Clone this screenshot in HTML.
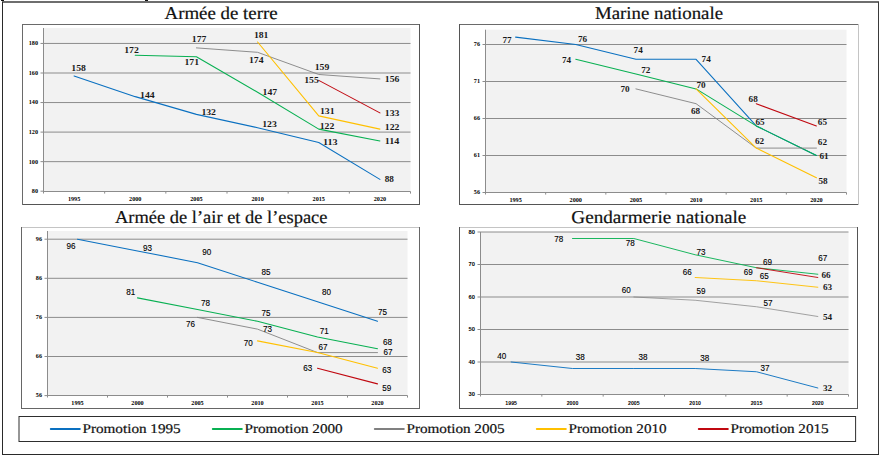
<!DOCTYPE html>
<html><head><meta charset="utf-8"><title>Chart</title>
<style>
html,body{margin:0;padding:0;background:#fff;}
svg{display:block;font-family:"Liberation Serif",serif;}
.t{font-size:18px;fill:#111;stroke:#111;stroke-width:0.2px;text-rendering:geometricPrecision;}
.s{font-size:9.2px;font-weight:bold;fill:#1a1a1a;text-anchor:middle;}
.n{font-family:"Liberation Sans",sans-serif;font-size:8.6px;fill:#000;stroke:#000;stroke-width:0.12px;text-anchor:middle;}
.as{font-size:6.2px;font-weight:bold;fill:#000;}
.an{font-family:"Liberation Sans",sans-serif;font-size:5.8px;font-weight:bold;fill:#000;}
.l{font-size:13.4px;fill:#111;stroke:#111;stroke-width:0.2px;text-rendering:geometricPrecision;}
</style></head><body>
<svg width="881" height="458" viewBox="0 0 881 458">
<rect x="0" y="0" width="881" height="458" fill="#fff"/>
<rect x="2" y="1" width="877" height="2" fill="#6e6e6e"/>
<rect x="2" y="2" width="1" height="453" fill="#2a2a2a"/>
<rect x="878" y="2" width="1" height="453" fill="#3a3a3a"/>
<rect x="2" y="454" width="877" height="1" fill="#2a2a2a"/>
<rect x="1" y="0" width="3" height="1" fill="#111"/>
<rect x="145" y="0" width="3" height="1" fill="#111"/>
<!-- Armée de terre -->
<text class="t" x="164.5" y="18.7" textLength="113.2" lengthAdjust="spacingAndGlyphs">Armée de terre</text>
<rect x="22" y="24" width="398" height="181" fill="#fff"/>
<rect x="22" y="24" width="398" height="1" fill="#6a6a6a"/>
<rect x="22" y="204" width="398" height="1" fill="#555"/>
<rect x="22" y="24" width="1" height="181" fill="#6a6a6a"/>
<rect x="419" y="24" width="1" height="181" fill="#555"/>
<rect x="43.5" y="28.0" width="367.0" height="163.5" fill="#f2f2f2"/>
<line x1="40.5" y1="43.45" x2="410.5" y2="43.45" stroke="#8c8c8c" stroke-width="1"/>
<text class="as" x="38.0" y="45.30" text-anchor="end">180</text>
<line x1="40.5" y1="73.00" x2="410.5" y2="73.00" stroke="#8c8c8c" stroke-width="1"/>
<text class="as" x="38.0" y="74.85" text-anchor="end">160</text>
<line x1="40.5" y1="102.55" x2="410.5" y2="102.55" stroke="#8c8c8c" stroke-width="1"/>
<text class="as" x="38.0" y="104.40" text-anchor="end">140</text>
<line x1="40.5" y1="132.10" x2="410.5" y2="132.10" stroke="#8c8c8c" stroke-width="1"/>
<text class="as" x="38.0" y="133.95" text-anchor="end">120</text>
<line x1="40.5" y1="161.65" x2="410.5" y2="161.65" stroke="#8c8c8c" stroke-width="1"/>
<text class="as" x="38.0" y="163.50" text-anchor="end">100</text>
<line x1="40.5" y1="191.20" x2="43.5" y2="191.20" stroke="#8c8c8c" stroke-width="1"/>
<text class="as" x="38.0" y="193.05" text-anchor="end">80</text>
<line x1="43.5" y1="28.0" x2="43.5" y2="193.5" stroke="#8c8c8c" stroke-width="1"/>
<line x1="43.5" y1="191.5" x2="410.5" y2="191.5" stroke="#8c8c8c" stroke-width="1"/>
<line x1="104.67" y1="191.5" x2="104.67" y2="193.6" stroke="#8c8c8c" stroke-width="1"/>
<line x1="165.83" y1="191.5" x2="165.83" y2="193.6" stroke="#8c8c8c" stroke-width="1"/>
<line x1="227.00" y1="191.5" x2="227.00" y2="193.6" stroke="#8c8c8c" stroke-width="1"/>
<line x1="288.17" y1="191.5" x2="288.17" y2="193.6" stroke="#8c8c8c" stroke-width="1"/>
<line x1="349.33" y1="191.5" x2="349.33" y2="193.6" stroke="#8c8c8c" stroke-width="1"/>
<line x1="410.50" y1="191.5" x2="410.50" y2="193.6" stroke="#8c8c8c" stroke-width="1"/>
<text class="as" x="74.08" y="201.00" text-anchor="middle">1995</text>
<text class="as" x="135.25" y="201.00" text-anchor="middle">2000</text>
<text class="as" x="196.42" y="201.00" text-anchor="middle">2005</text>
<text class="as" x="257.58" y="201.00" text-anchor="middle">2010</text>
<text class="as" x="318.75" y="201.00" text-anchor="middle">2015</text>
<text class="as" x="379.92" y="201.00" text-anchor="middle">2020</text>
<polyline points="74.08,75.95 135.25,96.64 196.42,114.37 257.58,127.67 318.75,142.44 379.92,179.38" fill="none" stroke="#0a70c0" stroke-width="1.08" stroke-linejoin="round" stroke-linecap="round"/>
<polyline points="135.25,55.27 196.42,56.75 257.58,92.21 318.75,129.14 379.92,140.96" fill="none" stroke="#08b052" stroke-width="1.08" stroke-linejoin="round" stroke-linecap="round"/>
<polyline points="196.42,47.88 257.58,52.31 318.75,74.48 379.92,78.91" fill="none" stroke="#808080" stroke-width="0.88" stroke-linejoin="round" stroke-linecap="round"/>
<polyline points="257.58,41.97 318.75,115.85 379.92,129.14" fill="none" stroke="#ffc000" stroke-width="1.08" stroke-linejoin="round" stroke-linecap="round"/>
<polyline points="318.75,80.39 379.92,112.89" fill="none" stroke="#c00810" stroke-width="1.08" stroke-linejoin="round" stroke-linecap="round"/>
<text class="s" x="78.6" y="71.2" textLength="14.6" lengthAdjust="spacingAndGlyphs">158</text>
<text class="s" x="147.4" y="98.1" textLength="14.6" lengthAdjust="spacingAndGlyphs">144</text>
<text class="s" x="208.7" y="114.9" textLength="14.6" lengthAdjust="spacingAndGlyphs">132</text>
<text class="s" x="269.5" y="127.4" textLength="14.6" lengthAdjust="spacingAndGlyphs">123</text>
<text class="s" x="330.3" y="144.7" textLength="14.6" lengthAdjust="spacingAndGlyphs">113</text>
<text class="s" x="389.3" y="182.2">88</text>
<text class="s" x="131.5" y="52.6" textLength="14.6" lengthAdjust="spacingAndGlyphs">172</text>
<text class="s" x="191.8" y="64.9" textLength="14.6" lengthAdjust="spacingAndGlyphs">171</text>
<text class="s" x="269.9" y="95.3" textLength="14.6" lengthAdjust="spacingAndGlyphs">147</text>
<text class="s" x="327.0" y="129.4" textLength="14.6" lengthAdjust="spacingAndGlyphs">122</text>
<text class="s" x="392.1" y="144.0" textLength="14.6" lengthAdjust="spacingAndGlyphs">114</text>
<text class="s" x="199.1" y="42.3" textLength="14.6" lengthAdjust="spacingAndGlyphs">177</text>
<text class="s" x="256.3" y="63.4" textLength="14.6" lengthAdjust="spacingAndGlyphs">174</text>
<text class="s" x="322.0" y="70.2" textLength="14.6" lengthAdjust="spacingAndGlyphs">159</text>
<text class="s" x="392.1" y="82.2" textLength="14.6" lengthAdjust="spacingAndGlyphs">156</text>
<text class="s" x="261.2" y="37.8" textLength="14.6" lengthAdjust="spacingAndGlyphs">181</text>
<text class="s" x="327.3" y="113.9" textLength="14.6" lengthAdjust="spacingAndGlyphs">131</text>
<text class="s" x="392.1" y="130.2" textLength="14.6" lengthAdjust="spacingAndGlyphs">122</text>
<text class="s" x="311.5" y="83.0" textLength="14.6" lengthAdjust="spacingAndGlyphs">155</text>
<text class="s" x="392.1" y="116.1" textLength="14.6" lengthAdjust="spacingAndGlyphs">133</text>
<!-- Marine nationale -->
<text class="t" x="595" y="18.7" textLength="128.0" lengthAdjust="spacingAndGlyphs">Marine nationale</text>
<rect x="459" y="24" width="400" height="181" fill="#fff"/>
<rect x="459" y="24" width="400" height="1" fill="#6a6a6a"/>
<rect x="459" y="204" width="400" height="1" fill="#555"/>
<rect x="459" y="24" width="1" height="181" fill="#555"/>
<rect x="858" y="24" width="1" height="181" fill="#c4c4c4"/>
<rect x="485.5" y="29.7" width="361.0" height="162.8" fill="#f2f2f2"/>
<line x1="482.5" y1="44.50" x2="846.5" y2="44.50" stroke="#8c8c8c" stroke-width="1"/>
<text class="as" x="480.0" y="46.35" text-anchor="end">76</text>
<line x1="482.5" y1="81.50" x2="846.5" y2="81.50" stroke="#8c8c8c" stroke-width="1"/>
<text class="as" x="480.0" y="83.35" text-anchor="end">71</text>
<line x1="482.5" y1="118.50" x2="846.5" y2="118.50" stroke="#8c8c8c" stroke-width="1"/>
<text class="as" x="480.0" y="120.35" text-anchor="end">66</text>
<line x1="482.5" y1="155.50" x2="846.5" y2="155.50" stroke="#8c8c8c" stroke-width="1"/>
<text class="as" x="480.0" y="157.35" text-anchor="end">61</text>
<line x1="482.5" y1="192.50" x2="485.5" y2="192.50" stroke="#8c8c8c" stroke-width="1"/>
<text class="as" x="480.0" y="194.35" text-anchor="end">56</text>
<line x1="485.5" y1="29.7" x2="485.5" y2="194.5" stroke="#8c8c8c" stroke-width="1"/>
<line x1="485.5" y1="192.5" x2="846.5" y2="192.5" stroke="#8c8c8c" stroke-width="1"/>
<line x1="545.67" y1="192.5" x2="545.67" y2="194.6" stroke="#8c8c8c" stroke-width="1"/>
<line x1="605.83" y1="192.5" x2="605.83" y2="194.6" stroke="#8c8c8c" stroke-width="1"/>
<line x1="666.00" y1="192.5" x2="666.00" y2="194.6" stroke="#8c8c8c" stroke-width="1"/>
<line x1="726.17" y1="192.5" x2="726.17" y2="194.6" stroke="#8c8c8c" stroke-width="1"/>
<line x1="786.33" y1="192.5" x2="786.33" y2="194.6" stroke="#8c8c8c" stroke-width="1"/>
<line x1="846.50" y1="192.5" x2="846.50" y2="194.6" stroke="#8c8c8c" stroke-width="1"/>
<text class="as" x="515.58" y="202.00" text-anchor="middle">1995</text>
<text class="as" x="575.75" y="202.00" text-anchor="middle">2000</text>
<text class="as" x="635.92" y="202.00" text-anchor="middle">2005</text>
<text class="as" x="696.08" y="202.00" text-anchor="middle">2010</text>
<text class="as" x="756.25" y="202.00" text-anchor="middle">2015</text>
<text class="as" x="816.42" y="202.00" text-anchor="middle">2020</text>
<polyline points="515.58,37.10 575.75,44.50 635.92,59.30 696.08,59.30 756.25,125.90 816.42,155.50" fill="none" stroke="#0a70c0" stroke-width="1.08" stroke-linejoin="round" stroke-linecap="round"/>
<polyline points="575.75,59.30 635.92,74.10 696.08,88.90 756.25,125.90 816.42,155.50" fill="none" stroke="#08b052" stroke-width="1.08" stroke-linejoin="round" stroke-linecap="round"/>
<polyline points="635.92,88.90 696.08,103.70 756.25,148.10 816.42,148.10" fill="none" stroke="#808080" stroke-width="0.88" stroke-linejoin="round" stroke-linecap="round"/>
<polyline points="696.08,88.90 756.25,148.10 816.42,177.70" fill="none" stroke="#ffc000" stroke-width="1.08" stroke-linejoin="round" stroke-linecap="round"/>
<polyline points="756.25,103.70 816.42,125.90" fill="none" stroke="#c00810" stroke-width="1.08" stroke-linejoin="round" stroke-linecap="round"/>
<text class="s" x="507.0" y="42.7">77</text>
<text class="s" x="582.6" y="42.2">76</text>
<text class="s" x="638.2" y="53.3">74</text>
<text class="s" x="706.2" y="62.3">74</text>
<text class="s" x="760.1" y="125.4">65</text>
<text class="s" x="824.0" y="158.9">61</text>
<text class="s" x="566.6" y="63.3">74</text>
<text class="s" x="645.8" y="73.4">72</text>
<text class="s" x="701.0" y="88.4">70</text>
<text class="s" x="625.0" y="92.2">70</text>
<text class="s" x="695.5" y="114.3">68</text>
<text class="s" x="759.6" y="144.1">62</text>
<text class="s" x="822.4" y="145.1">62</text>
<text class="s" x="823.0" y="184.0">58</text>
<text class="s" x="753.2" y="101.5">68</text>
<text class="s" x="822.4" y="125.4">65</text>
<!-- Armée de l’air et de l’espace -->
<text class="t" x="115" y="223" textLength="212.5" lengthAdjust="spacingAndGlyphs">Armée de l’air et de l’espace</text>
<rect x="21" y="227" width="399" height="182" fill="#fff"/>
<rect x="21" y="227" width="399" height="1" fill="#c4c4c4"/>
<rect x="21" y="408" width="399" height="1" fill="#666"/>
<rect x="21" y="227" width="1" height="182" fill="#666"/>
<rect x="419" y="227" width="1" height="182" fill="#666"/>
<rect x="47.5" y="231.0" width="360.0" height="164.5" fill="#f2f2f2"/>
<line x1="44.5" y1="239.20" x2="407.5" y2="239.20" stroke="#8c8c8c" stroke-width="1"/>
<text class="as" x="42.0" y="241.05" text-anchor="end">96</text>
<line x1="44.5" y1="278.30" x2="407.5" y2="278.30" stroke="#8c8c8c" stroke-width="1"/>
<text class="as" x="42.0" y="280.15" text-anchor="end">86</text>
<line x1="44.5" y1="317.40" x2="407.5" y2="317.40" stroke="#8c8c8c" stroke-width="1"/>
<text class="as" x="42.0" y="319.25" text-anchor="end">76</text>
<line x1="44.5" y1="356.50" x2="407.5" y2="356.50" stroke="#8c8c8c" stroke-width="1"/>
<text class="as" x="42.0" y="358.35" text-anchor="end">66</text>
<line x1="44.5" y1="395.60" x2="47.5" y2="395.60" stroke="#8c8c8c" stroke-width="1"/>
<text class="as" x="42.0" y="397.45" text-anchor="end">56</text>
<line x1="47.5" y1="231.0" x2="47.5" y2="397.5" stroke="#8c8c8c" stroke-width="1"/>
<line x1="47.5" y1="395.5" x2="407.5" y2="395.5" stroke="#8c8c8c" stroke-width="1"/>
<line x1="107.50" y1="395.5" x2="107.50" y2="397.6" stroke="#8c8c8c" stroke-width="1"/>
<line x1="167.50" y1="395.5" x2="167.50" y2="397.6" stroke="#8c8c8c" stroke-width="1"/>
<line x1="227.50" y1="395.5" x2="227.50" y2="397.6" stroke="#8c8c8c" stroke-width="1"/>
<line x1="287.50" y1="395.5" x2="287.50" y2="397.6" stroke="#8c8c8c" stroke-width="1"/>
<line x1="347.50" y1="395.5" x2="347.50" y2="397.6" stroke="#8c8c8c" stroke-width="1"/>
<line x1="407.50" y1="395.5" x2="407.50" y2="397.6" stroke="#8c8c8c" stroke-width="1"/>
<text class="as" x="77.50" y="405.00" text-anchor="middle">1995</text>
<text class="as" x="137.50" y="405.00" text-anchor="middle">2000</text>
<text class="as" x="197.50" y="405.00" text-anchor="middle">2005</text>
<text class="as" x="257.50" y="405.00" text-anchor="middle">2010</text>
<text class="as" x="317.50" y="405.00" text-anchor="middle">2015</text>
<text class="as" x="377.50" y="405.00" text-anchor="middle">2020</text>
<polyline points="77.50,239.20 137.50,250.93 197.50,262.66 257.50,282.21 317.50,301.76 377.50,321.31" fill="none" stroke="#0a70c0" stroke-width="1.08" stroke-linejoin="round" stroke-linecap="round"/>
<polyline points="137.50,297.85 197.50,309.58 257.50,321.31 317.50,336.95 377.50,348.68" fill="none" stroke="#08b052" stroke-width="1.08" stroke-linejoin="round" stroke-linecap="round"/>
<polyline points="197.50,317.40 257.50,329.13 317.50,352.59 377.50,352.59" fill="none" stroke="#808080" stroke-width="0.88" stroke-linejoin="round" stroke-linecap="round"/>
<polyline points="257.50,340.86 317.50,352.59 377.50,368.23" fill="none" stroke="#ffc000" stroke-width="1.08" stroke-linejoin="round" stroke-linecap="round"/>
<polyline points="317.50,368.23 377.50,383.87" fill="none" stroke="#c00810" stroke-width="1.08" stroke-linejoin="round" stroke-linecap="round"/>
<text class="n" x="71.0" y="248.8" textLength="9" lengthAdjust="spacingAndGlyphs">96</text>
<text class="n" x="147.6" y="251.2" textLength="9" lengthAdjust="spacingAndGlyphs">93</text>
<text class="n" x="206.7" y="255.0" textLength="9" lengthAdjust="spacingAndGlyphs">90</text>
<text class="n" x="266.1" y="274.8" textLength="9" lengthAdjust="spacingAndGlyphs">85</text>
<text class="n" x="326.4" y="295.2" textLength="9" lengthAdjust="spacingAndGlyphs">80</text>
<text class="n" x="382.4" y="315.3" textLength="9" lengthAdjust="spacingAndGlyphs">75</text>
<text class="n" x="130.7" y="295.2" textLength="9" lengthAdjust="spacingAndGlyphs">81</text>
<text class="n" x="205.5" y="305.8" textLength="9" lengthAdjust="spacingAndGlyphs">78</text>
<text class="n" x="266.1" y="316.3" textLength="9" lengthAdjust="spacingAndGlyphs">75</text>
<text class="n" x="324.3" y="334.3" textLength="9" lengthAdjust="spacingAndGlyphs">71</text>
<text class="n" x="387.5" y="345.3" textLength="9" lengthAdjust="spacingAndGlyphs">68</text>
<text class="n" x="190.5" y="327.1" textLength="9" lengthAdjust="spacingAndGlyphs">76</text>
<text class="n" x="267.4" y="331.9" textLength="9" lengthAdjust="spacingAndGlyphs">73</text>
<text class="n" x="323.0" y="350.3" textLength="9" lengthAdjust="spacingAndGlyphs">67</text>
<text class="n" x="388.0" y="355.1" textLength="9" lengthAdjust="spacingAndGlyphs">67</text>
<text class="n" x="248.3" y="346.0" textLength="9" lengthAdjust="spacingAndGlyphs">70</text>
<text class="n" x="386.7" y="373.4" textLength="9" lengthAdjust="spacingAndGlyphs">63</text>
<text class="n" x="307.8" y="371.4" textLength="9" lengthAdjust="spacingAndGlyphs">63</text>
<text class="n" x="386.7" y="391.2" textLength="9" lengthAdjust="spacingAndGlyphs">59</text>
<!-- Gendarmerie nationale -->
<text class="t" x="571.3" y="223" textLength="175.0" lengthAdjust="spacingAndGlyphs">Gendarmerie nationale</text>
<rect x="459" y="227" width="399" height="182" fill="#fff"/>
<rect x="459" y="227" width="399" height="1" fill="#c4c4c4"/>
<rect x="459" y="408" width="399" height="1" fill="#555"/>
<rect x="459" y="227" width="1" height="182" fill="#555"/>
<rect x="857" y="227" width="1" height="182" fill="#555"/>
<rect x="480.5" y="232.0" width="368.0" height="162.5" fill="#f2f2f2"/>
<line x1="477.5" y1="232.00" x2="848.5" y2="232.00" stroke="#8c8c8c" stroke-width="1"/>
<text class="an" x="475.0" y="233.85" text-anchor="end">80</text>
<line x1="477.5" y1="264.50" x2="848.5" y2="264.50" stroke="#8c8c8c" stroke-width="1"/>
<text class="an" x="475.0" y="266.35" text-anchor="end">70</text>
<line x1="477.5" y1="297.00" x2="848.5" y2="297.00" stroke="#8c8c8c" stroke-width="1"/>
<text class="an" x="475.0" y="298.85" text-anchor="end">60</text>
<line x1="477.5" y1="329.50" x2="848.5" y2="329.50" stroke="#8c8c8c" stroke-width="1"/>
<text class="an" x="475.0" y="331.35" text-anchor="end">50</text>
<line x1="477.5" y1="362.00" x2="848.5" y2="362.00" stroke="#8c8c8c" stroke-width="1"/>
<text class="an" x="475.0" y="363.85" text-anchor="end">40</text>
<line x1="477.5" y1="394.50" x2="480.5" y2="394.50" stroke="#8c8c8c" stroke-width="1"/>
<text class="an" x="475.0" y="396.35" text-anchor="end">30</text>
<line x1="480.5" y1="232.0" x2="480.5" y2="396.5" stroke="#8c8c8c" stroke-width="1"/>
<line x1="480.5" y1="394.5" x2="848.5" y2="394.5" stroke="#8c8c8c" stroke-width="1"/>
<line x1="541.83" y1="394.5" x2="541.83" y2="396.6" stroke="#8c8c8c" stroke-width="1"/>
<line x1="603.17" y1="394.5" x2="603.17" y2="396.6" stroke="#8c8c8c" stroke-width="1"/>
<line x1="664.50" y1="394.5" x2="664.50" y2="396.6" stroke="#8c8c8c" stroke-width="1"/>
<line x1="725.83" y1="394.5" x2="725.83" y2="396.6" stroke="#8c8c8c" stroke-width="1"/>
<line x1="787.17" y1="394.5" x2="787.17" y2="396.6" stroke="#8c8c8c" stroke-width="1"/>
<line x1="848.50" y1="394.5" x2="848.50" y2="396.6" stroke="#8c8c8c" stroke-width="1"/>
<text class="an" x="511.17" y="405.10" text-anchor="middle" textLength="11.6" lengthAdjust="spacingAndGlyphs">1995</text>
<text class="an" x="572.50" y="405.10" text-anchor="middle" textLength="11.6" lengthAdjust="spacingAndGlyphs">2000</text>
<text class="an" x="633.83" y="405.10" text-anchor="middle" textLength="11.6" lengthAdjust="spacingAndGlyphs">2005</text>
<text class="an" x="695.17" y="405.10" text-anchor="middle" textLength="11.6" lengthAdjust="spacingAndGlyphs">2010</text>
<text class="an" x="756.50" y="405.10" text-anchor="middle" textLength="11.6" lengthAdjust="spacingAndGlyphs">2015</text>
<text class="an" x="817.83" y="405.10" text-anchor="middle" textLength="11.6" lengthAdjust="spacingAndGlyphs">2020</text>
<polyline points="511.17,362.00 572.50,368.50 633.83,368.50 695.17,368.50 756.50,371.75 817.83,388.00" fill="none" stroke="#0a70c0" stroke-width="0.92" stroke-linejoin="round" stroke-linecap="round"/>
<polyline points="572.50,238.50 633.83,238.50 695.17,254.75 756.50,267.75 817.83,274.25" fill="none" stroke="#08b052" stroke-width="0.92" stroke-linejoin="round" stroke-linecap="round"/>
<polyline points="633.83,297.00 695.17,300.25 756.50,306.75 817.83,316.50" fill="none" stroke="#808080" stroke-width="0.72" stroke-linejoin="round" stroke-linecap="round"/>
<polyline points="695.17,277.50 756.50,280.75 817.83,287.25" fill="none" stroke="#ffc000" stroke-width="0.92" stroke-linejoin="round" stroke-linecap="round"/>
<polyline points="756.50,267.75 817.83,277.50" fill="none" stroke="#c00810" stroke-width="0.92" stroke-linejoin="round" stroke-linecap="round"/>
<text class="n" x="501.7" y="358.5" textLength="9" lengthAdjust="spacingAndGlyphs">40</text>
<text class="n" x="580.2" y="360.3" textLength="9" lengthAdjust="spacingAndGlyphs">38</text>
<text class="n" x="643.0" y="359.5" textLength="9" lengthAdjust="spacingAndGlyphs">38</text>
<text class="n" x="704.8" y="361.0" textLength="9" lengthAdjust="spacingAndGlyphs">38</text>
<text class="n" x="765.1" y="370.8" textLength="9" lengthAdjust="spacingAndGlyphs">37</text>
<text class="s" x="827.5" y="391.2">32</text>
<text class="n" x="558.7" y="242.4" textLength="9" lengthAdjust="spacingAndGlyphs">78</text>
<text class="n" x="630.3" y="246.2" textLength="9" lengthAdjust="spacingAndGlyphs">78</text>
<text class="n" x="701.0" y="255.0" textLength="9" lengthAdjust="spacingAndGlyphs">73</text>
<text class="n" x="767.4" y="265.3" textLength="9" lengthAdjust="spacingAndGlyphs">69</text>
<text class="n" x="822.8" y="261.0" textLength="9" lengthAdjust="spacingAndGlyphs">67</text>
<text class="n" x="626.2" y="293.4" textLength="9" lengthAdjust="spacingAndGlyphs">60</text>
<text class="n" x="701.0" y="294.2" textLength="9" lengthAdjust="spacingAndGlyphs">59</text>
<text class="n" x="767.9" y="306.2" textLength="9" lengthAdjust="spacingAndGlyphs">57</text>
<text class="s" x="827.6" y="320.3">54</text>
<text class="n" x="687.3" y="275.1" textLength="9" lengthAdjust="spacingAndGlyphs">66</text>
<text class="n" x="764.3" y="279.4" textLength="9" lengthAdjust="spacingAndGlyphs">65</text>
<text class="s" x="827.5" y="290.2">63</text>
<text class="n" x="748.3" y="275.1" textLength="9" lengthAdjust="spacingAndGlyphs">69</text>
<text class="s" x="826.1" y="278.4">66</text>
<!-- legend -->
<rect x="19" y="416.5" width="836.6" height="25" fill="#fff" stroke="#2e2e2e" stroke-width="1"/>
<line x1="50.8" y1="428.9" x2="79.8" y2="428.9" stroke="#0a70c0" stroke-width="2" stroke-linecap="round"/>
<text class="l" x="82.5" y="433" textLength="98.2" lengthAdjust="spacingAndGlyphs">Promotion 1995</text>
<line x1="212.8" y1="428.9" x2="241.8" y2="428.9" stroke="#08b052" stroke-width="2" stroke-linecap="round"/>
<text class="l" x="244.5" y="433" textLength="98.2" lengthAdjust="spacingAndGlyphs">Promotion 2000</text>
<line x1="374.8" y1="428.9" x2="403.8" y2="428.9" stroke="#808080" stroke-width="2" stroke-linecap="round"/>
<text class="l" x="406.5" y="433" textLength="98.2" lengthAdjust="spacingAndGlyphs">Promotion 2005</text>
<line x1="536.8" y1="428.9" x2="565.8" y2="428.9" stroke="#ffc000" stroke-width="2" stroke-linecap="round"/>
<text class="l" x="568.5" y="433" textLength="98.2" lengthAdjust="spacingAndGlyphs">Promotion 2010</text>
<line x1="698.8" y1="428.9" x2="727.8" y2="428.9" stroke="#c00810" stroke-width="2" stroke-linecap="round"/>
<text class="l" x="730.5" y="433" textLength="98.2" lengthAdjust="spacingAndGlyphs">Promotion 2015</text>
</svg>
</body></html>
